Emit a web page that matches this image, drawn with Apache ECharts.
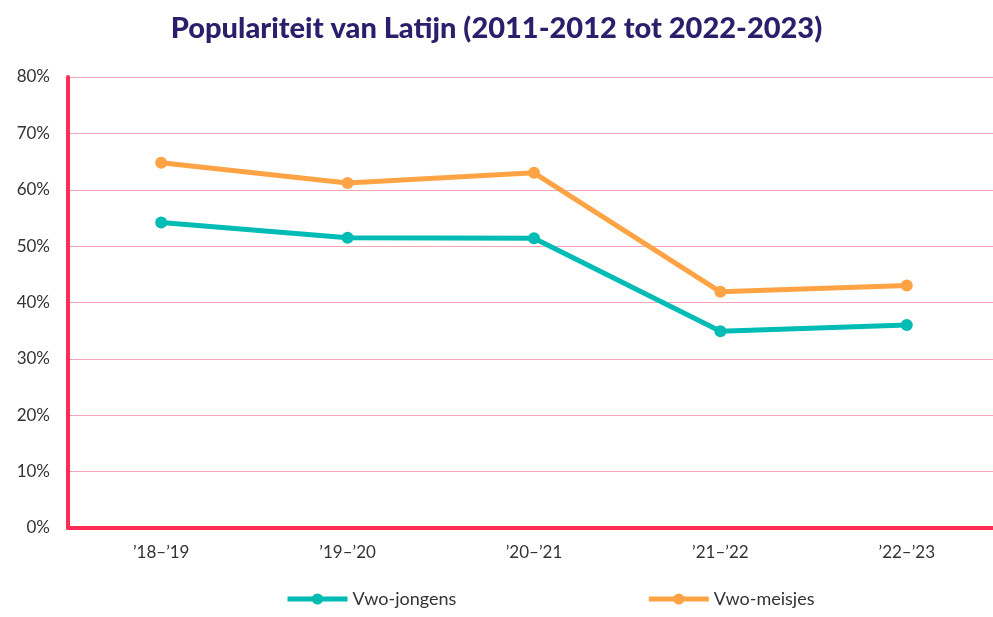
<!DOCTYPE html>
<html>
<head>
<meta charset="utf-8">
<script src="https://cdn.jsdelivr.net/npm/echarts@6/dist/echarts.min.js"></script>
<style>
  html, body { margin: 0; padding: 0; background: #fff; }
  #chart { width: 993px; height: 617px; }
</style>
</head>
<body>
<div id="chart"></div>
<script>
var categories = ["\u201918\u2013\u201919", "\u201919\u2013\u201920", "\u201920\u2013\u201921", "\u201921\u2013\u201922", "\u201922\u2013\u201923"];
var jongens = [54.2, 51.5, 51.4, 34.9, 36.0];
var meisjes = [64.8, 61.2, 63.0, 41.9, 43.0];

var chart = echarts.init(document.getElementById("chart"));

var option = {
  backgroundColor: "#fff",
  title: {
    text: "Populariteit van Latijn (2011-2012 tot 2022-2023)",
    left: "center",
    top: 9,
    textStyle: {
      color: "#2b1f6b",
      fontFamily: "Lato",
      fontWeight: 900,
      fontSize: 29
    }
  },
  color: ["#00bcb4", "#ffa345"],
  legend: {
    bottom: 4,
    left: 280,
    itemGap: 190,
    itemWidth: 60,
    itemHeight: 14,
    lineStyle: { width: 5 },
    textStyle: { color: "#333", fontSize: 18, fontFamily: "Lato" },
    data: ["Vwo-jongens", "Vwo-meisjes"]
  },
  grid: {
    left: 68,
    right: -7,
    top: 77,
    bottom: 89,
    outerBoundsMode: "none",
    containLabel: false
  },
  xAxis: {
    type: "category",
    data: categories,
    axisLine: { lineStyle: { color: "#ff2d55", width: 4 } },
    axisTick: { show: false },
    axisLabel: { color: "#333", fontSize: 17, fontFamily: "Lato", margin: 16 }
  },
  yAxis: {
    type: "value",
    min: 0,
    max: 80,
    interval: 10,
    axisLine: { show: true, lineStyle: { color: "#ff2d55", width: 4 } },
    axisTick: { show: false },
    axisLabel: {
      color: "#333",
      fontSize: 17,
      fontFamily: "Lato",
      margin: 18,
      formatter: "{value}%"
    },
    splitLine: { lineStyle: { color: "#f7a3b6", width: 1 } }
  },
  series: [
    {
      name: "Vwo-jongens",
      type: "line",
      data: jongens,
      symbol: "circle",
      symbolSize: 12,
      lineStyle: { width: 5 },
      itemStyle: { color: "#00bcb4" }
    },
    {
      name: "Vwo-meisjes",
      type: "line",
      data: meisjes,
      symbol: "circle",
      symbolSize: 12,
      lineStyle: { width: 5 },
      itemStyle: { color: "#ffa345" }
    }
  ]
};

chart.setOption(option);
</script>
</body>
</html>
